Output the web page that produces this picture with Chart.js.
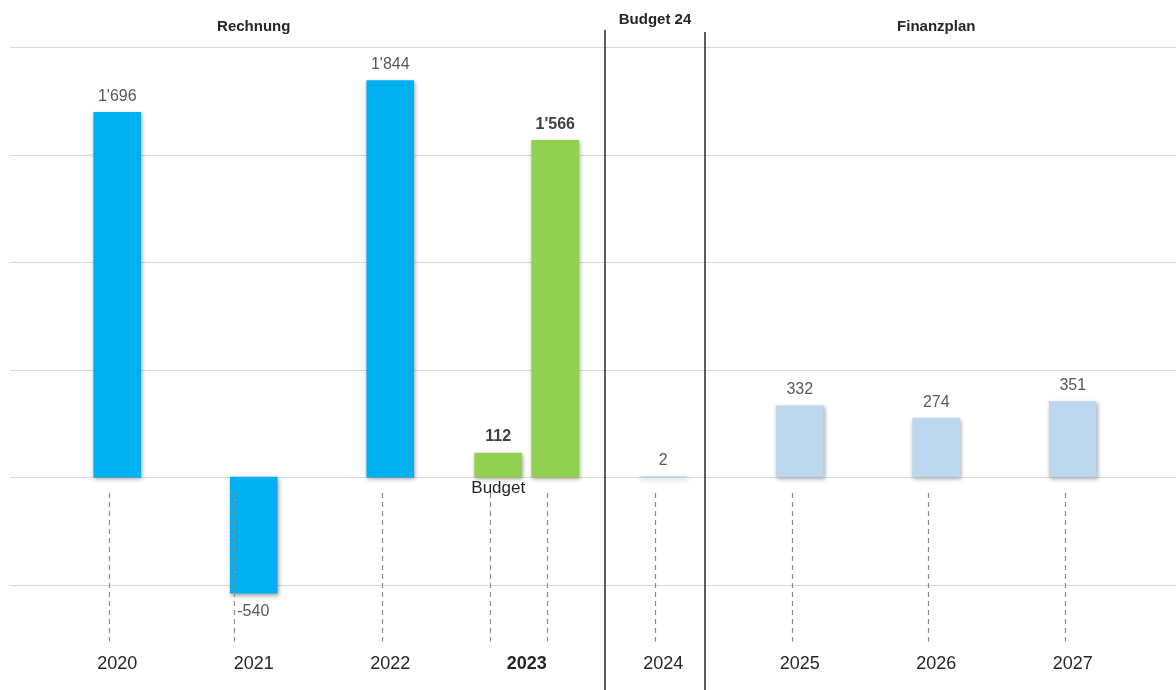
<!DOCTYPE html>
<html>
<head>
<meta charset="utf-8">
<script src="https://cdn.jsdelivr.net/npm/chart.js@4"></script>
<style>
  html, body { margin: 0; padding: 0; background: #fff; }
  #wrap { width: 1176px; height: 690px; }
</style>
</head>
<body>
<div id="wrap"><canvas id="grafik" width="1176" height="690"></canvas></div>
<script>
// Jahre und Werte (in 1000 CHF)
var jahre = ['2020', '2021', '2022', '2023', '2024', '2025', '2026', '2027'];
var werte = [1696, -540, 1844, 1566, 2, 332, 274, 351];
var budget = [null, null, null, 112, null, null, null, null];
var farben = ['#00B0F0', '#00B0F0', '#00B0F0', '#92D050', '#BDD7EE', '#BDD7EE', '#BDD7EE', '#BDD7EE'];
var gitter = [-500, 0, 500, 1000, 1500, 2000];
var abschnitte = ['Rechnung', 'Budget 24', 'Finanzplan'];
var abschnittJahr = ['2021', '2024', '2026'];

function format(v) {
  return String(Math.round(v)).replace(/\B(?=(\d{3})+(?!\d))/g, "'");
}

var FONT = "'Liberation Sans', Arial, sans-serif";

// Hilfslinien ueber die ganze Breite, Schatten, Beschriftungen
var zeichnen = {
  id: 'zeichnen',
  beforeDatasetsDraw: function (chart) {
    var ctx = chart.ctx, y = chart.scales.y;
    ctx.save();
    ctx.strokeStyle = '#d9d9d9';
    ctx.lineWidth = 1;
    gitter.forEach(function (g) {
      var py = Math.round(y.getPixelForValue(g)) + 0.5;
      ctx.beginPath();
      ctx.moveTo(10, py);
      ctx.lineTo(chart.width, py);
      ctx.stroke();
    });
    ctx.restore();
    ctx.save();
    ctx.shadowColor = 'rgba(0,0,0,0.35)';
    ctx.shadowBlur = 4;
    ctx.shadowOffsetX = 1;
    ctx.shadowOffsetY = 2;
  },
  afterDatasetsDraw: function (chart) {
    var ctx = chart.ctx, x = chart.scales.x, y = chart.scales.y;
    ctx.restore();
    var null0 = y.getPixelForValue(0);
    var unten = chart.chartArea.bottom;

    // gestrichelte Linien
    ctx.save();
    ctx.strokeStyle = '#8c8c8c';
    ctx.lineWidth = 1.2;
    ctx.setLineDash([5, 4]);
    chart.data.datasets.forEach(function (ds, di) {
      chart.getDatasetMeta(di).data.forEach(function (bar, i) {
        var v = ds.data[i];
        if (v === null) return;
        var px = v < 0 ? bar.x - bar.width / 2 + 4 : bar.x - 8;
        px = Math.round(px) + 0.5;
        ctx.beginPath();
        ctx.moveTo(px, null0 + 16);
        ctx.lineTo(px, unten + 3);
        ctx.stroke();
      });
    });
    ctx.restore();

    // Werte
    ctx.save();
    ctx.textBaseline = 'middle';
    chart.data.datasets.forEach(function (ds, di) {
      chart.getDatasetMeta(di).data.forEach(function (bar, i) {
        var v = ds.data[i];
        if (v === null) return;
        var fett = jahre[i] === '2023';
        ctx.font = (fett ? 'bold ' : '') + '16px ' + FONT;
        ctx.fillStyle = fett ? '#404040' : '#595959';
        if (v < 0) {
          ctx.textAlign = 'left';
          ctx.fillText(format(v), bar.x - bar.width / 2 + 7, bar.y + 18);
        } else {
          ctx.textAlign = 'center';
          ctx.fillText(format(v), bar.x, bar.y - 16);
        }
        if (ds.label === 'Budget') {
          ctx.font = '17px ' + FONT;
          ctx.fillStyle = '#262626';
          ctx.textAlign = 'center';
          ctx.fillText('Budget', bar.x, null0 + 11);
        }
      });
    });
    ctx.restore();

    // Abschnitte
    var p24 = x.getPixelForValue(jahre.indexOf('2024'));
    var links = Math.round(p24 - 58), rechts = Math.round(p24 + 42);
    ctx.save();
    ctx.strokeStyle = '#262626';
    ctx.lineWidth = 1.5;
    [[links, 30], [rechts, 32]].forEach(function (l) {
      ctx.beginPath();
      ctx.moveTo(l[0], l[1]);
      ctx.lineTo(l[0], chart.height);
      ctx.stroke();
    });
    ctx.font = 'bold 15px ' + FONT;
    ctx.fillStyle = '#262626';
    ctx.textAlign = 'center';
    ctx.textBaseline = 'middle';
    abschnitte.forEach(function (t, k) {
      var px = t === 'Budget 24' ? (links + rechts) / 2 : x.getPixelForValue(jahre.indexOf(abschnittJahr[k]));
      ctx.fillText(t, px, t === 'Budget 24' ? 20 : 27);
    });
    ctx.restore();
  }
};

var ctx = document.getElementById('grafik').getContext('2d');
var grafik = new Chart(ctx, {
  type: 'bar',
  data: {
    labels: jahre,
    datasets: [{
      label: 'Budget',
      data: budget,
      backgroundColor: '#92D050',
      barThickness: 57,
      maxBarThickness: 47,
      skipNull: true
    }, {
      label: 'Rechnung',
      data: werte,
      backgroundColor: farben,
      barThickness: 57,
      maxBarThickness: 47,
      skipNull: true
    }]
  },
  options: {
    responsive: false,
    animation: false,
    layout: { padding: { left: 49, right: 35, top: 47, bottom: 0 } },
    plugins: { legend: { display: false }, tooltip: { enabled: false } },
    scales: {
      x: {
        grid: { display: false, drawTicks: false },
        border: { display: false },
        ticks: {
          padding: 15,
          color: '#262626',
          font: function (c) {
            return { family: FONT, size: 18, weight: (c.tick && c.tick.label === '2023') ? 'bold' : 'normal' };
          }
        }
      },
      y: {
        display: false,
        min: -750,
        max: 2000
      }
    }
  },
  plugins: [zeichnen]
});
</script>
</body>
</html>
